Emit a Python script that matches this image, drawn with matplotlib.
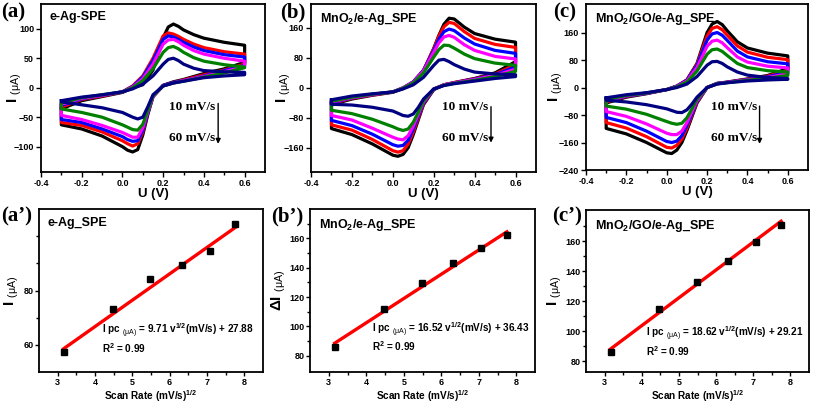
import numpy as np
import matplotlib
matplotlib.use("Agg")
import matplotlib.pyplot as plt

plt.rcParams['font.family'] = ['Liberation Sans', 'DejaVu Sans']
plt.rcParams['mathtext.fontset'] = 'custom'
plt.rcParams['mathtext.rm'] = 'Liberation Sans'
plt.rcParams['mathtext.bf'] = 'Liberation Sans:bold'
plt.rcParams['mathtext.it'] = 'Liberation Sans:italic'

# ---- CV data ----
E_fwd = [-0.3, -0.2, -0.1, 0.0, 0.05, 0.1, 0.15, 0.2, 0.225, 0.25, 0.275, 0.3, 0.35, 0.4, 0.5, 0.6]
E_rev = [0.6, 0.5, 0.4, 0.3, 0.25, 0.2, 0.15, 0.125, 0.1, 0.075, 0.05, 0.025, 0.0, -0.1, -0.2, -0.3]

colors = ['black', 'red', 'blue', 'magenta', 'green', 'navy']  # 60 ... 10 mV/s

# panel (a) e-Ag-SPE
a_fwd = [
    [-36, -22, -15, -8, 0, 5, 30, 85, 103, 108, 104, 98, 90, 84, 77, 72],
    [-33, -20, -14, -7, 3, 20, 50, 88, 93, 91, 87, 82, 74, 68, 61, 57],
    [-30, -19, -13, -7, 2, 18, 46, 82, 88, 86, 82, 77, 69, 63, 56, 52],
    [-28, -18, -13, -7, 1, 15, 40, 74, 81, 82, 78, 72, 63, 57, 50, 45],
    [-26, -17, -12, -7, 0, 12, 32, 60, 68, 70, 66, 60, 51, 45, 39, 35],
    [-22, -16, -12, -7, -2, 6, 20, 40, 48, 50, 46, 40, 33, 29, 27, 26],
]
a_rev = [
    [43, 32, 24, 14, 10, 4, -15, -45, -80, -105, -109, -106, -100, -82, -70, -63],
    [40, 30, 22, 13, 9, 4, -15, -42, -75, -95, -99, -95, -90, -75, -64, -59],
    [38, 29, 20, 12, 9, 4, -15, -42, -72, -90, -91, -88, -83, -70, -59, -54],
    [36, 27, 19, 12, 8, 3, -15, -40, -68, -84, -84, -80, -76, -64, -54, -47],
    [34, 25, 18, 11, 8, 3, -14, -38, -62, -72, -71, -67, -63, -50, -42, -36],
    [22, 20, 17, 11, 8, 3, -12, -32, -50, -53, -50, -46, -42, -34, -29, -24],
]

# panel (b) MnO2/e-Ag_SPE
b_fwd = [
    [-45, -30, -20, -12, -2, 15, 45, 105, 140, 170, 186, 184, 162, 145, 130, 122],
    [-42, -28, -19, -11, -1, 16, 47, 105, 138, 163, 175, 172, 150, 132, 116, 108],
    [-40, -27, -18, -11, 0, 16, 47, 100, 130, 150, 157, 153, 133, 117, 100, 92],
    [-38, -26, -18, -11, 0, 15, 45, 95, 120, 136, 140, 135, 115, 100, 84, 77],
    [-36, -25, -17, -11, -1, 13, 40, 82, 102, 114, 113, 106, 90, 78, 66, 60],
    [-32, -22, -16, -11, -3, 8, 28, 60, 74, 76, 70, 62, 50, 42, 37, 35],
]
b_rev = [
    [70, 40, 25, 14, 8, -5, -45, -85, -125, -160, -178, -183, -180, -150, -125, -109],
    [62, 37, 24, 14, 8, -4, -42, -80, -118, -150, -168, -172, -168, -138, -113, -99],
    [56, 35, 23, 13, 8, -4, -40, -75, -110, -140, -154, -156, -152, -124, -101, -87],
    [50, 33, 22, 13, 8, -3, -38, -70, -102, -128, -139, -137, -132, -108, -86, -74],
    [44, 30, 20, 12, 7, -3, -35, -65, -92, -110, -114, -110, -104, -84, -69, -60],
    [30, 25, 18, 11, 6, -3, -30, -52, -70, -76, -74, -68, -62, -52, -46, -44],
]

# panel (c) MnO2/GO/e-Ag_SPE
c_fwd = [
    [-45, -28, -18, -6, 4, 22, 70, 160, 185, 192, 183, 165, 133, 115, 100, 92],
    [-42, -26, -17, -6, 4, 22, 68, 150, 172, 177, 168, 152, 121, 103, 88, 81],
    [-40, -25, -17, -6, 4, 21, 64, 138, 156, 160, 152, 137, 106, 89, 75, 69],
    [-38, -24, -16, -6, 3, 19, 58, 120, 135, 138, 130, 116, 89, 74, 62, 57],
    [-35, -23, -16, -6, 2, 16, 48, 97, 110, 112, 105, 93, 70, 58, 49, 45],
    [-30, -21, -15, -6, 0, 10, 32, 65, 75, 76, 70, 60, 45, 36, 29, 26],
]
c_rev = [
    [55, 35, 25, 16, 12, 0, -45, -85, -125, -160, -182, -192, -190, -160, -135, -119],
    [50, 33, 24, 15, 12, 0, -42, -80, -118, -150, -168, -176, -174, -143, -118, -102],
    [45, 31, 23, 15, 12, 0, -40, -76, -110, -140, -156, -160, -157, -127, -102, -87],
    [40, 29, 22, 15, 11, 0, -38, -70, -102, -127, -137, -137, -133, -106, -84, -70],
    [35, 27, 21, 14, 11, 0, -34, -62, -88, -104, -107, -104, -99, -78, -63, -54],
    [24, 22, 19, 14, 10, 0, -28, -48, -65, -73, -72, -67, -62, -50, -42, -37],
]

# ---- peak current vs sqrt(scan rate) ----
sqrt_v = [3.16, 4.47, 5.48, 6.32, 7.07, 7.75]
a_ipc = [57.3, 73.1, 84.2, 89.5, 94.5, 104.4]
b_ipc = [86.0, 112.2, 129.3, 143.3, 153.6, 162.2]
c_ipc = [86.0, 114.9, 133.1, 147.1, 159.6, 171.3]
fits = [(9.71, 27.88), (16.52, 36.43), (18.62, 29.21)]

fig = plt.figure(figsize=(8.13, 4.05), dpi=100)
W, H = 813, 405


def add_ax(left, top, width, height):
    return fig.add_axes([left / W, 1 - (top + height) / H, width / W, height / H])


def style(ax, pad=1.5, length=3.5):
    for s in ax.spines.values():
        s.set_linewidth(1.3)
    ax.tick_params(which='major', direction='out', length=length, width=1, labelsize=6.5, pad=pad)
    ax.tick_params(which='minor', direction='out', length=2, width=1)
    for lab in ax.get_xticklabels() + ax.get_yticklabels():
        lab.set_fontweight('bold')


ylab_I = r'$\mathbf{I}$ $_{\mathrm{(\mu A)}}$'
serif = dict(family=['Liberation Serif', 'DejaVu Serif'], fontweight='bold')

cv_sets = [
    (a_fwd, a_rev, (41, 4, 224, 168), (-143, 142), [-100, -50, 0, 50, 100], 'e-Ag-SPE',
     (0.23, -33, -85), (0.47, -22, -100), '(a)', (1, 2), -0.075),
    (b_fwd, b_rev, (311, 4, 225, 168), (-225, 224), [-160, -80, 0, 80, 160],
     r'MnO$_{\mathbf{2}}$/e-Ag_SPE', (0.24, -52, -133), (0.48, -43, -154), '(b)', (280, 2), -0.08),
    (c_fwd, c_rev, (586, 4, 222, 166), (-240, 243), [-240, -160, -80, 0, 80, 160],
     r'MnO$_{\mathbf{2}}$/GO/e-Ag_SPE', (0.22, -58, -147), (0.46, -46, -172), '(c)', (553, 2), -0.095),
]

for fwd, rev, box, ylim, yt, title, txt, arr, plab, ppos, lx in cv_sets:
    ax = add_ax(*box)
    for k in range(6):
        xs = E_fwd + E_rev + [E_fwd[0]]
        ys = fwd[k] + rev[k] + [fwd[k][0]]
        ax.plot(xs, ys, color=colors[k], lw=2.3, solid_joinstyle='round')
    ax.set_xlim(-0.4, 0.7)
    ax.set_ylim(*ylim)
    ax.set_xticks([-0.4, -0.2, 0.0, 0.2, 0.4, 0.6])
    ax.set_xticks(np.arange(-0.3, 0.7, 0.2), minor=True)
    ax.set_yticks(yt)
    ax.set_xticklabels(['-0.4', '-0.2', '0.0', '0.2', '0.4', '0.6'])
    ax.set_xlabel('U (V)', fontsize=9.5, fontweight='bold', labelpad=0)
    ax.set_ylabel(ylab_I, fontsize=11)
    ax.yaxis.set_label_coords(lx, 0.5)
    style(ax)
    ax.text(0.04, 0.96, title, transform=ax.transAxes, fontsize=9, fontweight='bold',
            va='top', ha='left')
    ax.text(txt[0], txt[1], '10 mV/s', fontsize=9.5, va='center', **serif)
    ax.text(txt[0], txt[2], '60 mV/s', fontsize=9.5, va='center', **serif)
    ax.annotate('', xy=(arr[0], arr[2]), xytext=(arr[0], arr[1]),
                arrowprops=dict(arrowstyle='-|>', lw=1, color='black', mutation_scale=7))
    fig.text(ppos[0] / W, 1 - ppos[1] / H, plab, fontsize=15, va='top', ha='left', **serif)

fit_sets = [
    (a_ipc, fits[0], (39, 209, 224, 163), (50, 110), [60, 80], [70, 90, 100], ylab_I,
     'e-Ag_SPE', (4.19, 65.2, 58.7), "(a\u2019)", (1, 206), -0.08),
    (b_ipc, fits[1], (310, 209, 225, 163), (69, 180), [80, 100, 120, 140, 160],
     [90, 110, 130, 150, 170], r'$\mathbf{\Delta I}$ $_{\mathrm{(\mu A)}}$',
     r'MnO$_{\mathbf{2}}$/e-Ag_SPE', (4.14, 97.8, 86.7), "(b\u2019)", (271, 206), -0.1),
    (c_ipc, fits[2], (586, 210, 223, 162), (72.7, 181), [80, 100, 120, 140, 160],
     [90, 110, 130, 150, 170], ylab_I,
     r'MnO$_{\mathbf{2}}$/GO/e-Ag_SPE', (4.12, 98.2, 87.0), "(c\u2019)", (552, 206), -0.1),
]

for ipc, (slope, icpt), box, ylim, yt, ymin, ylab, title, eq, plab, ppos, lx in fit_sets:
    ax = add_ax(*box)
    xf = np.array([sqrt_v[0], sqrt_v[-1]])
    ax.plot(xf, slope * xf + icpt, color='red', lw=2.4, zorder=2)
    ax.plot(sqrt_v, ipc, 's', color='black', ms=4.5, zorder=3)
    ax.set_xlim(2.5, 8.5)
    ax.set_ylim(*ylim)
    ax.set_xticks([3, 4, 5, 6, 7, 8])
    ax.set_xticks(np.arange(3.5, 8.5, 1.0), minor=True)
    ax.set_yticks(yt)
    ax.set_yticks(ymin, minor=True)
    ax.set_xlabel(r'Scan Rate (mV/s)$^{\mathbf{1/2}}$', fontsize=7.2, fontweight='bold')
    # bottom of the label sits just above the figure edge
    ax.xaxis.set_label_coords(0.5, -(H - 1 - (box[1] + box[3])) / box[3])
    ax.xaxis.label.set_va('bottom')
    ax.set_ylabel(ylab, fontsize=11)
    ax.yaxis.set_label_coords(lx, 0.5)
    style(ax, pad=1, length=3)
    ax.text(0.04, 0.95, title, transform=ax.transAxes, fontsize=9, fontweight='bold',
            va='top', ha='left')
    ax.text(eq[0], eq[1], r'I $\mathbf{pc}$ $_{\mathrm{(\mu A)}}$ = %.2f v$^{\mathbf{1/2}}$(mV/s) + %.2f'
            % (slope, icpt), fontsize=7.2, fontweight='bold', va='center')
    ax.text(eq[0], eq[2], r'R$^{\mathbf{2}}$ = 0.99', fontsize=7.2, fontweight='bold', va='center')
    fig.text(ppos[0] / W, 1 - ppos[1] / H, plab, fontsize=15, va='top', ha='left', **serif)

fig.savefig('out.png', dpi=100)
